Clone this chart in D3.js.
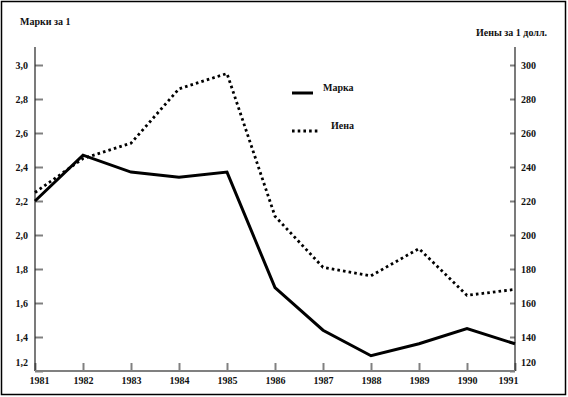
<!DOCTYPE html>
<html>
<head>
<meta charset="utf-8">
<script src="https://cdn.jsdelivr.net/npm/d3@7"></script>
<style>
  body { margin: 0; background: #fff; }
  svg text { font-family: "Liberation Serif", serif; font-weight: bold; font-size: 10px; fill: #111; }
</style>
</head>
<body>
<svg id="chart" width="568" height="397"></svg>
<script>
// data
var years = [1981, 1982, 1983, 1984, 1985, 1986, 1987, 1988, 1989, 1990, 1991];
var markValues = [2.20, 2.47, 2.37, 2.34, 2.37, 1.69, 1.44, 1.29, 1.36, 1.45, 1.36];
var yenValues = [225, 245, 254, 286, 295, 211, 181, 176, 192, 164.5, 168];
var markTicks = [1.2, 1.4, 1.6, 1.8, 2.0, 2.2, 2.4, 2.6, 2.8, 3.0];
var yenTicks = [120, 140, 160, 180, 200, 220, 240, 260, 280, 300];
var seriesNames = ["Марка", "Иена"];
var leftTitle = "Марки за 1";
var rightTitle = "Иены за 1 долл.";

var plot = {left: 35, right: 515, top: 65, bottom: 371, axisTop: 47};

var svg = d3.select('#chart');

// outer frame
svg.append('rect')
	.attr('x', 1.5).attr('y', 1.5)
	.attr('width', 564).attr('height', 393)
	.attr('fill', 'none')
	.attr('stroke', '#000')
	.attr('stroke-width', 1.5);

var x = d3.scaleLinear().domain([1981, 1991]).range([plot.left, plot.right]);
var yMark = d3.scaleLinear().domain([1.2, 3.0]).range([plot.bottom, plot.top]);
var yYen = d3.scaleLinear().domain([120, 300]).range([plot.bottom, plot.top]);

var comma = function(d) { return d3.format('.1f')(d).replace('.', ','); };

// left axis
var gLeft = svg.append('g')
	.attr('transform', 'translate(' + plot.left + ',0)')
	.call(d3.axisLeft(yMark).tickValues(markTicks).tickFormat(comma)
		.tickSizeInner(-8).tickSizeOuter(0).tickPadding(7));

// right axis
var gRight = svg.append('g')
	.attr('transform', 'translate(' + plot.right + ',0)')
	.call(d3.axisRight(yYen).tickValues(yenTicks).tickFormat(d3.format('d'))
		.tickSizeInner(-5).tickSizeOuter(0).tickPadding(6));

// bottom axis
var gBottom = svg.append('g')
	.attr('transform', 'translate(0,' + plot.bottom + ')')
	.call(d3.axisBottom(x).tickValues(years).tickFormat(d3.format('d'))
		.tickSizeInner(-8).tickSizeOuter(0).tickPadding(6));

[gLeft, gRight, gBottom].forEach(function(g) {
	g.select('.domain').remove();
	g.selectAll('.tick line').attr('stroke', '#808080').attr('stroke-width', 2);
	g.selectAll('.tick text').attr('font-family', null).attr('font-size', null);
	g.attr('font-family', null).attr('font-size', null);
});

// lowest labels sit above the baseline
gLeft.selectAll('.tick text').filter(function(d) { return d === 1.2; }).attr('y', -9);
gRight.selectAll('.tick text').filter(function(d) { return d === 120; }).attr('y', -9);
gBottom.selectAll('.tick text').filter(function(d) { return d === 1981; }).attr('x', 4);
gBottom.selectAll('.tick text').filter(function(d) { return d === 1991; }).attr('x', -7);

// axis lines
svg.append('line')
	.attr('x1', plot.left).attr('x2', plot.left)
	.attr('y1', plot.axisTop).attr('y2', plot.bottom)
	.attr('stroke', '#222').attr('stroke-width', 1.2);
svg.append('line')
	.attr('x1', plot.right).attr('x2', plot.right)
	.attr('y1', plot.axisTop).attr('y2', plot.bottom)
	.attr('stroke', '#222').attr('stroke-width', 1.2);
svg.append('line')
	.attr('x1', plot.left).attr('x2', plot.right)
	.attr('y1', plot.bottom).attr('y2', plot.bottom)
	.attr('stroke', '#808080').attr('stroke-width', 2);

// titles
svg.append('text').attr('x', 20).attr('y', 25).text(leftTitle);
svg.append('text').attr('x', 547).attr('y', 36).attr('text-anchor', 'end').text(rightTitle);

// lines
var markLine = d3.line()
	.x(function(d, i) { return x(years[i]); })
	.y(function(d) { return yMark(d); });
var yenLine = d3.line()
	.x(function(d, i) { return x(years[i]); })
	.y(function(d) { return yYen(d); });

svg.append('path')
	.datum(yenValues)
	.attr('d', yenLine)
	.attr('fill', 'none')
	.attr('stroke', '#000')
	.attr('stroke-width', 2.8)
	.attr('stroke-dasharray', '2.6,3.1');

svg.append('path')
	.datum(markValues)
	.attr('d', markLine)
	.attr('fill', 'none')
	.attr('stroke', '#000')
	.attr('stroke-width', 3)
	.attr('stroke-linejoin', 'miter');

// legend
var legend = svg.append('g');
legend.append('line')
	.attr('x1', 292).attr('x2', 313).attr('y1', 93).attr('y2', 93)
	.attr('stroke', '#000').attr('stroke-width', 3);
legend.append('text').attr('x', 323).attr('y', 91).text(seriesNames[0]);
legend.append('line')
	.attr('x1', 292).attr('x2', 320).attr('y1', 131).attr('y2', 131)
	.attr('stroke', '#000').attr('stroke-width', 2.8)
	.attr('stroke-dasharray', '2.6,3.1');
legend.append('text').attr('x', 331).attr('y', 129).text(seriesNames[1]);
</script>
</body>
</html>
